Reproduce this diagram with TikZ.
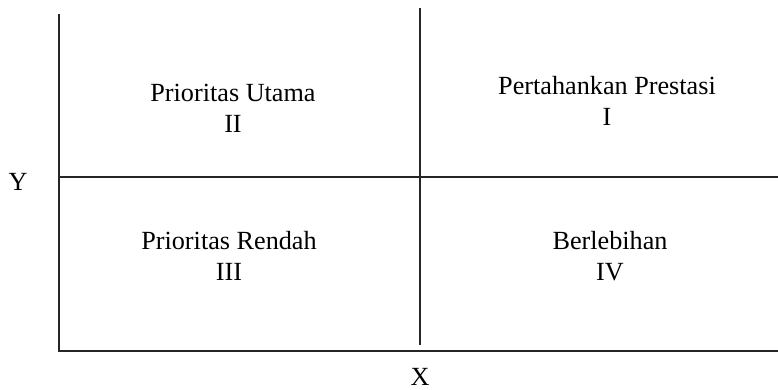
\documentclass[tikz,border=0pt]{standalone}
\usepackage{fontspec}
\setmainfont{Liberation Serif}
\usetikzlibrary{positioning}

\tikzset{
    axisline/.style={line width=0.7pt, black!85},
    quadlabel/.style={align=center, inner sep=0pt}
}

\begin{document}
\begin{tikzpicture}[x=0.5pt, y=-0.5pt, font=\fontsize{13.1}{15.5}\selectfont]
    \useasboundingbox (0, 0) rectangle (778, 390);
    \coordinate (ytop) at (59, 14);
    \coordinate (origin) at (59, 351);
    \coordinate (xend) at (778, 351);
    \coordinate (midleft) at (59, 177);
    \coordinate (midright) at (778, 177);
    \coordinate (midtop) at (420, 8);
    \coordinate (midbot) at (420, 345);
    \draw[axisline] (ytop) -- (origin) -- (xend);
    \draw[axisline] (midleft) -- (midright);
    \draw[axisline] (midtop) -- (midbot);
    \node[quadlabel] (kuadII) at (233, 108) {Prioritas Utama\\II};
    \node[quadlabel] (kuadI) at (607, 101) {Pertahankan Prestasi\\I};
    \node[quadlabel] (kuadIII) at (229, 256) {Prioritas Rendah\\III};
    \node[quadlabel] (kuadIV) at (610, 256) {Berlebihan\\IV};
    \node[inner sep=0pt] (ylabel) at (18, 182) {Y};
    \node[inner sep=0pt] (xlabel) at (420, 377) {X};
\end{tikzpicture}
\end{document}
